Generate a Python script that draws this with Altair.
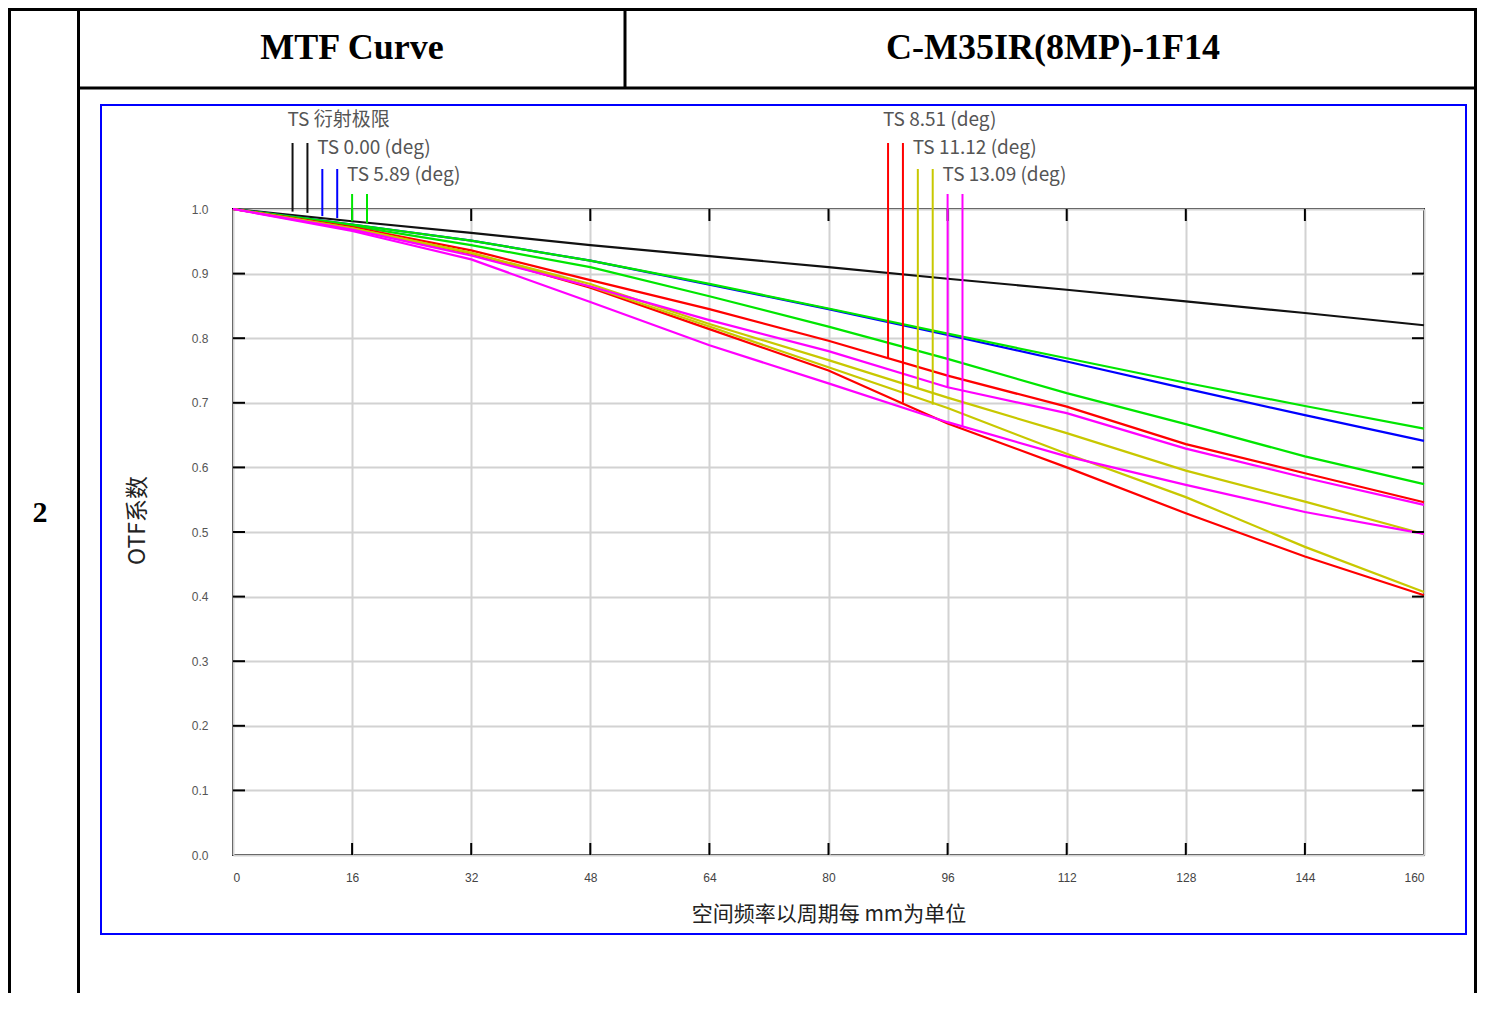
import altair as alt
import pandas as pd

# ---------------- data ----------------
FREQ = [0, 16, 32, 48, 64, 80, 96, 112, 128, 144, 160]

DIFF_LIMIT = [1.0, 0.981, 0.963, 0.944, 0.927, 0.910, 0.892, 0.875, 0.857, 0.839, 0.820]
F000 = [1.0, 0.976, 0.951, 0.920, 0.883, 0.845, 0.805, 0.764, 0.722, 0.681, 0.641]
F589_T = [1.0, 0.976, 0.951, 0.920, 0.884, 0.846, 0.807, 0.769, 0.731, 0.695, 0.660]
F589_S = [1.0, 0.974, 0.944, 0.910, 0.865, 0.818, 0.768, 0.715, 0.667, 0.617, 0.574]
F851_T = [1.0, 0.972, 0.936, 0.890, 0.845, 0.796, 0.742, 0.694, 0.636, 0.591, 0.546]
F851_S = [1.0, 0.970, 0.931, 0.878, 0.814, 0.750, 0.668, 0.600, 0.529, 0.462, 0.402]
F1112_T = [1.0, 0.970, 0.932, 0.884, 0.822, 0.766, 0.708, 0.653, 0.595, 0.547, 0.497]
F1112_S = [1.0, 0.970, 0.932, 0.880, 0.818, 0.755, 0.692, 0.621, 0.554, 0.477, 0.407]
F1309_T = [1.0, 0.968, 0.928, 0.880, 0.828, 0.780, 0.724, 0.684, 0.629, 0.584, 0.542]
F1309_S = [1.0, 0.966, 0.922, 0.856, 0.789, 0.730, 0.670, 0.617, 0.573, 0.531, 0.497]

FIELDS = ["衍射极限", "0.00", "5.89", "8.51", "11.12", "13.09"]
FIELD_COLORS = ["#111111", "#0000ff", "#00e600", "#ff0000", "#c8c800", "#ff00ff"]

CURVES = [
    ("衍射极限", "T", DIFF_LIMIT),
    ("0.00", "T", F000),
    ("5.89", "T", F589_T),
    ("5.89", "S", F589_S),
    ("8.51", "T", F851_T),
    ("8.51", "S", F851_S),
    ("11.12", "T", F1112_T),
    ("11.12", "S", F1112_S),
    ("13.09", "T", F1309_T),
    ("13.09", "S", F1309_S),
]

# legend pointer lines (frequency where drawn, value where they meet the curve)
PTR_FIELD = ["衍射极限", "衍射极限", "0.00", "0.00", "5.89", "5.89",
             "8.51", "8.51", "11.12", "11.12", "13.09", "13.09"]
PTR_FREQ = [8, 10, 12, 14, 16, 18, 88, 90, 92, 94, 96, 98]
PTR_END = [0.996, 0.994, 0.989, 0.986, 0.981, 0.978, 0.768, 0.700, 0.722, 0.697, 0.724, 0.663]
PTR_ROW = [0, 0, 1, 1, 2, 2, 0, 0, 1, 1, 2, 2]

LABEL_TEXT = ["TS 衍射极限", "TS 0.00 (deg)", "TS 5.89 (deg)",
              "TS 8.51 (deg)", "TS 11.12 (deg)", "TS 13.09 (deg)"]
LABEL_FIELD = FIELDS
LABEL_FREQ = [8, 12, 16, 88, 92, 96]
LABEL_ROW = [0, 1, 2, 0, 1, 2]

X_TICKS = [0, 16, 32, 48, 64, 80, 96, 112, 128, 144, 160]
Y_TICKS = [0.0, 0.1, 0.2, 0.3, 0.4, 0.5, 0.6, 0.7, 0.8, 0.9, 1.0]
X_INNER = [16, 32, 48, 64, 80, 96, 112, 128, 144]
Y_INNER = [0.1, 0.2, 0.3, 0.4, 0.5, 0.6, 0.7, 0.8, 0.9]

HEADER_LEFT = "MTF Curve"
HEADER_RIGHT = "C-M35IR(8MP)-1F14"
ROW_NUMBER = "2"
X_TITLE = "空间频率以周期每 mm为单位"
Y_TITLE = "OTF系数"

# ---------------- layout ----------------
W, H = 1191, 646
PAD = {"left": 225, "top": 201, "right": 53, "bottom": 138}
BOTTOM = H + PAD["bottom"]
CJK = "Noto Sans CJK SC"

rows = []
for fld, ts, vals in CURVES:
    for f, v in zip(FREQ, vals):
        rows.append({"freq": f, "mtf": v, "field": fld, "curve": fld + ts})
df_lines = pd.DataFrame(rows)

df_ptr = pd.DataFrame({"field": PTR_FIELD, "freq": PTR_FREQ, "mtf": PTR_END, "row": PTR_ROW})
df_lab = pd.DataFrame({"field": LABEL_FIELD, "freq": LABEL_FREQ, "text": LABEL_TEXT, "row": LABEL_ROW})
df_yin = pd.DataFrame({"mtf": Y_INNER})
df_xin = pd.DataFrame({"freq": X_INNER})
one = pd.DataFrame({"k": [0]})

XS = alt.Scale(domain=[0, 160], nice=False, zero=False)
YS = alt.Scale(domain=[0, 1], nice=False)
XAXIS = alt.Axis(values=X_TICKS, format="d", grid=True, gridColor="#d2d2d2", gridWidth=2,
                 ticks=False, domain=False, labelPadding=17, labelFontSize=12,
                 labelFont="Liberation Sans", labelColor="#444444", title=X_TITLE,
                 titleFont=CJK, titleFontSize=21, titleFontWeight="normal",
                 titleColor="#222222", titleY=59, titleBaseline="middle")
YAXIS = alt.Axis(values=Y_TICKS, format=".1f", grid=True, gridColor="#d2d2d2", gridWidth=2,
                 ticks=False, domain=False, labelPadding=25, labelFontSize=12,
                 labelFont="Liberation Sans", labelColor="#555555", title=Y_TITLE,
                 titleFont=CJK, titleFontSize=23, titleFontWeight="normal",
                 titleColor="#222222", titleX=-96, titleY=H / 2 - 12, titleBaseline="middle")

def X(field="freq"):
    return alt.X(field + ":Q", scale=XS, axis=XAXIS)

def Y(field="mtf"):
    return alt.Y(field + ":Q", scale=YS, axis=YAXIS)

COLOR = alt.Color("field:N", scale=alt.Scale(domain=FIELDS, range=FIELD_COLORS), legend=None)

layers = []

# curves
layers.append(
    alt.Chart(df_lines).mark_line(strokeWidth=2.2).encode(
        x=X(), y=Y(), color=COLOR, detail="curve:N"
    )
)

# inner ticks
layers.append(alt.Chart(df_yin).mark_rule(color="black", strokeWidth=2).encode(
    y=Y(), x=alt.value(0), x2=alt.value(12)))
layers.append(alt.Chart(df_yin).mark_rule(color="black", strokeWidth=2).encode(
    y=Y(), x=alt.value(W - 12), x2=alt.value(W)))
layers.append(alt.Chart(df_xin).mark_rule(color="black", strokeWidth=2).encode(
    x=X(), y=alt.value(0), y2=alt.value(12)))
layers.append(alt.Chart(df_xin).mark_rule(color="black", strokeWidth=2).encode(
    x=X(), y=alt.value(H - 12), y2=alt.value(H)))

# legend pointers and labels
RULE_TOP = [-66, -40, -15]
LABEL_Y = [-89, -61, -34]
for r in range(3):
    layers.append(
        alt.Chart(df_ptr).transform_filter(alt.datum.row == r).mark_rule(strokeWidth=2).encode(
            x=X(), y=Y(), y2=alt.value(RULE_TOP[r]), color=COLOR)
    )
    layers.append(
        alt.Chart(df_lab).transform_filter(alt.datum.row == r).mark_text(
            align="left", baseline="middle", dx=-5, font=CJK, fontSize=19, color="#555555"
        ).encode(x=X(), y=alt.value(LABEL_Y[r]), text="text:N")
    )

# document frame (table borders and blue box)
def vrule(x, y1, y2, color="black", w=3):
    return alt.Chart(one).mark_rule(color=color, strokeWidth=w).encode(
        x=alt.value(x), y=alt.value(y1), y2=alt.value(y2))

def hrule(y, x1, x2, color="black", w=3):
    return alt.Chart(one).mark_rule(color=color, strokeWidth=w).encode(
        y=alt.value(y), x=alt.value(x1), x2=alt.value(x2))

layers += [
    vrule(-223.5, -201, BOTTOM),
    vrule(-154.5, -201, BOTTOM),
    vrule(1242.5, -201, BOTTOM),
    vrule(392, -201, -121),
    hrule(-199.5, -225, 1244),
    hrule(-121, -154.5, 1242.5),
]
layers.append(
    alt.Chart(one).mark_rect(filled=False, stroke="#0000ff", strokeWidth=2).encode(
        x=alt.value(-132), x2=alt.value(1233), y=alt.value(-104), y2=alt.value(725))
)

def label(text, x, y, size):
    return alt.Chart(one).mark_text(
        text=text, font="Liberation Serif", fontWeight="bold", fontSize=size,
        color="black", align="center", baseline="middle"
    ).encode(x=alt.value(x), y=alt.value(y))

layers += [
    label(HEADER_LEFT, 119, -161, 36),
    label(HEADER_RIGHT, 820, -161, 36),
    label(ROW_NUMBER, -193, 304, 30),
]

chart = alt.layer(*layers).properties(
    width=W, height=H, padding=PAD,
    autosize=alt.AutoSizeParams(type="none"),
    background="white",
).configure_view(stroke="black", strokeWidth=2)

chart.save("out.html", embed_options={"renderer": "svg", "actions": False})
